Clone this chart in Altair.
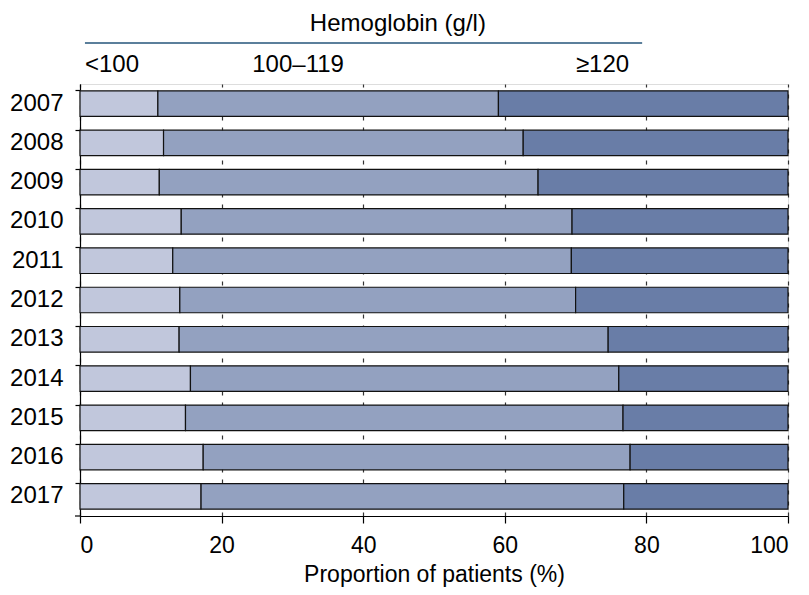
import altair as alt
import pandas as pd

years = ["2007", "2008", "2009", "2010", "2011", "2012", "2013", "2014", "2015", "2016", "2017"]
lt100 = [11.0, 11.8, 11.2, 14.3, 13.1, 14.1, 14.0, 15.6, 14.9, 17.4, 17.1]
mid = [48.1, 50.8, 53.5, 55.2, 56.3, 55.9, 60.6, 60.5, 61.8, 60.3, 59.7]
ge120 = [40.9, 37.4, 35.3, 30.5, 30.6, 30.0, 25.4, 23.9, 23.3, 22.3, 23.2]
groups = ["<100", "100–119", "≥120"]
colors = ["#c1c7dc", "#93a1c0", "#697da7"]

header_labels = ["<100", "100–119", "≥120"]
header_pos = [0.7, 30.8, 73.8]
header_align = ["left", "center", "center"]
header_title = "Hemoglobin (g/l)"
header_title_pos = 44.9
header_line = [0.7, 79.4]

rows = []
for i, y in enumerate(years):
    for k, (g, vals) in enumerate(zip(groups, [lt100, mid, ge120])):
        rows.append({"year": y, "group": g, "value": vals[i], "order": k})
df = pd.DataFrame(rows)

W, H = 708, 432
FONT = "Liberation Sans"

xscale = alt.Scale(domain=[0, 100], nice=False, zero=True)

bars = alt.Chart(df).mark_bar(stroke="#111111", strokeWidth=1.2).encode(
    x=alt.X("value:Q", stack="zero", scale=xscale,
            axis=alt.Axis(values=[0, 20, 40, 60, 80, 100], title="Proportion of patients (%)",
                          grid=True, gridDash=[4, 7], gridColor="#333333", gridWidth=1.2,
                          domainColor="#000000", domainWidth=1.2, tickColor="#000000",
                          tickWidth=1.2, tickSize=7, labelFontSize=23, labelFont=FONT,
                          labelColor="#000000", labelPadding=11, titleFontSize=23,
                          titleFont=FONT, titleFontWeight="normal", titleColor="#000000",
                          titlePadding=6)),
    y=alt.Y("year:N", sort=years,
            scale=alt.Scale(paddingInner=0.35, paddingOuter=0.175),
            axis=alt.Axis(title=None, bandPosition=0, tickSize=5,
                          tickColor="#000000", tickWidth=1.2, domainColor="#000000",
                          domainWidth=1.2, labelFontSize=24, labelFont=FONT,
                          labelColor="#000000", labelPadding=12, grid=False)),
    color=alt.Color("group:N", scale=alt.Scale(domain=groups, range=colors), legend=None),
    order=alt.Order("order:Q"),
)

hdf = pd.DataFrame({"label": header_labels, "pos": header_pos, "align": header_align})
hl_left = alt.Chart(hdf[hdf["align"] == "left"]).mark_text(
    align="left", baseline="middle", fontSize=24, font=FONT, color="#000000"
).encode(x=alt.X("pos:Q", scale=xscale), y=alt.value(-19), text="label:N")
hl_center = alt.Chart(hdf[hdf["align"] == "center"]).mark_text(
    align="center", baseline="middle", fontSize=24, font=FONT, color="#000000"
).encode(x=alt.X("pos:Q", scale=xscale), y=alt.value(-19), text="label:N")

tdf = pd.DataFrame({"label": [header_title], "pos": [header_title_pos]})
htitle = alt.Chart(tdf).mark_text(
    align="center", baseline="middle", fontSize=24, font=FONT,
    color="#000000"
).encode(x=alt.X("pos:Q", scale=xscale), y=alt.value(-60), text="label:N")

ldf = pd.DataFrame({"x1": [header_line[0]], "x2": [header_line[1]]})
hline = alt.Chart(ldf).mark_rule(color="#24557a", strokeWidth=1.5).encode(
    x=alt.X("x1:Q", scale=xscale), x2="x2:Q", y=alt.value(-41)
)

edge = alt.Chart(pd.DataFrame({"a": [0]})).mark_rule(color="#000000", strokeWidth=1.2).encode(
    x=alt.value(-5), x2=alt.value(0), y=alt.value(H)
)

chart = alt.layer(bars, hl_left, hl_center, htitle, hline, edge).properties(
    width=W, height=H,
    autosize=alt.AutoSizeParams(type="none"),
    padding={"left": 72, "top": 76, "right": 13, "bottom": 71},
).configure_view(stroke=None).configure(background="white")

chart.save("out.html", embed_options={"renderer": "svg", "actions": False})
